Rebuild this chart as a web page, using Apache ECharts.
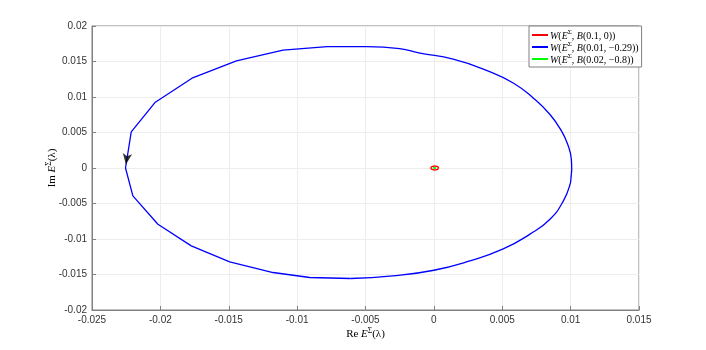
<!DOCTYPE html>
<html>
<head>
<meta charset="utf-8">
<script src="https://cdn.jsdelivr.net/npm/echarts@6/dist/echarts.min.js"></script>
<style>
  html, body { margin: 0; padding: 0; background: #fff; }
  #chart { width: 706px; height: 350px; }
</style>
</head>
<body>
<div id="chart"></div>
<script>
// tick values
var xTicks = [-0.025, -0.02, -0.015, -0.01, -0.005, 0, 0.005, 0.01, 0.015];
var yTicks = [-0.02, -0.015, -0.01, -0.005, 0, 0.005, 0.01, 0.015, 0.02];

var seriesNames = ["W(E,B(0.1,0))", "W(E,B(0.01,-0.29))", "W(E,B(0.02,-0.8))"];

// red curve B(0.1, 0)
var redX = [0.00034, 0.0003, 0.0002, 0.00006, -0.00008, -0.00018, -0.00022, -0.00018, -0.00008, 0.00006, 0.0002, 0.0003, 0.00034];
var redY = [0, 0.00014, 0.00024, 0.00028, 0.00024, 0.00014, 0, -0.00014, -0.00024, -0.00028, -0.00024, -0.00014, 0];

// blue curve B(0.01, -0.29): finely sampled right part
var blueRightX = [-0.0061, -0.003, 0.0, 0.00264, 0.00507, 0.00703, 0.00849, 0.00947, 0.00996, 0.01004, 0.01008, 0.01005, 0.00983, 0.00934, 0.00849, 0.00726, 0.0058, 0.00385, 0.00141, -0.00102, -0.0025, -0.0049];
var blueRightY = [-0.01556, -0.0152, -0.0144, -0.01308, -0.0114, -0.00932, -0.00721, -0.00463, -0.00228, -0.0011, 0.0, 0.0013, 0.00309, 0.00519, 0.00753, 0.00987, 0.01198, 0.01375, 0.01534, 0.01618, 0.0168, 0.0171];
// blue curve: coarse left part
var blueLeftX = [-0.0049, -0.0078, -0.01103, -0.01444, -0.01769, -0.02037, -0.02213, -0.02255, -0.02201, -0.02018, -0.01774, -0.01493, -0.01176, -0.00908, -0.0061];
var blueLeftY = [0.0171, 0.0171, 0.01659, 0.01508, 0.01265, 0.00927, 0.00508, 0.0, -0.00393, -0.00792, -0.01097, -0.01323, -0.01472, -0.01542, -0.01556];

// green curve B(0.02, -0.8)
var greenX = [0.00018, 0.00014, 0.00006, -0.00002, -0.00006, -0.00002, 0.00006, 0.00014, 0.00018];
var greenY = [0, 0.00005, 0.00007, 0.00005, 0, -0.00005, -0.00007, -0.00005, 0];

// direction arrow
var arrowPoint = [-0.02252, 0.0005];

function pairs(xs, ys) {
  return xs.map(function (x, i) { return [x, ys[i]]; });
}

var legendLabels = {};
legendLabels[seriesNames[0]] = "{i|W}{n|(}{i|E}{s|Σ}{n|, }{i|B}{n|(0.1, 0))}";
legendLabels[seriesNames[1]] = "{i|W}{n|(}{i|E}{s|Σ}{n|, }{i|B}{n|(0.01, −0.29))}";
legendLabels[seriesNames[2]] = "{i|W}{n|(}{i|E}{s|Σ}{n|, }{i|B}{n|(0.02, −0.8))}";

var serif = "Liberation Serif";
var rich = {
  i: { fontFamily: serif, fontStyle: "italic", fontSize: 10, color: "#000", verticalAlign: "bottom" },
  n: { fontFamily: serif, fontSize: 10, color: "#000", verticalAlign: "bottom" },
  s: { fontFamily: serif, fontSize: 7, color: "#000", verticalAlign: "bottom", padding: [0, 0, 5, 0] }
};
var axisRich = {
  i: { fontFamily: serif, fontStyle: "italic", fontSize: 11, color: "#000", verticalAlign: "bottom" },
  n: { fontFamily: serif, fontSize: 11, color: "#000", verticalAlign: "bottom" },
  s: { fontFamily: serif, fontSize: 7.5, color: "#000", verticalAlign: "bottom", padding: [0, 0, 5, 0] }
};

function tickFmt(v) {
  return String(+v.toFixed(4));
}

var chart = echarts.init(document.getElementById("chart"), null, { renderer: "canvas" });

chart.setOption({
  animation: false,
  backgroundColor: "#fff",
  grid: {
    left: 92, right: 67, top: 26, bottom: 40,
    show: true, borderColor: "#808080", borderWidth: 1
  },
  legend: {
    data: seriesNames,
    orient: "vertical",
    left: 529, top: 26,
    padding: [3, 3, 2, 3],
    itemGap: 0,
    itemWidth: 16,
    itemHeight: 2,
    icon: "rect",
    backgroundColor: "#fff",
    borderColor: "#808080",
    borderWidth: 1,
    textStyle: { rich: rich, padding: [0, 0, 0, -3] },
    formatter: function (name) { return legendLabels[name]; }
  },
  xAxis: {
    type: "value",
    min: -0.025, max: 0.015, interval: 0.005,
    name: "{n|Re }{i|E}{s|Σ}{n|(λ)}",
    nameLocation: "middle",
    nameGap: 17,
    nameMoveOverlap: false,
    nameTextStyle: { rich: axisRich },
    axisLine: { show: true, onZero: false, lineStyle: { color: "#808080" } },
    axisTick: { show: true, inside: true, length: 4, lineStyle: { color: "#808080" } },
    axisLabel: { color: "#333", fontFamily: "Liberation Sans", fontSize: 10, margin: 5, formatter: tickFmt },
    splitLine: { show: true, lineStyle: { color: "#ededed" } }
  },
  yAxis: {
    type: "value",
    min: -0.02, max: 0.02, interval: 0.005,
    name: "{n|Im }{i|E}{s|Σ}{n|(λ)}",
    nameLocation: "middle",
    nameRotate: 90,
    nameGap: 34,
    nameMoveOverlap: false,
    nameTextStyle: { rich: axisRich },
    axisLine: { show: true, onZero: false, lineStyle: { color: "#808080" } },
    axisTick: { show: true, inside: true, length: 4, lineStyle: { color: "#808080" } },
    axisLabel: { color: "#333", fontFamily: "Liberation Sans", fontSize: 10, margin: 5, formatter: tickFmt },
    splitLine: { show: true, lineStyle: { color: "#ededed" } }
  },
  series: [
    {
      name: seriesNames[0], type: "line", data: pairs(redX, redY),
      smooth: 0.5, showSymbol: false, color: "#ff0000",
      lineStyle: { width: 1.4, color: "#ff0000" }
    },
    {
      name: seriesNames[1], type: "line", data: pairs(blueRightX, blueRightY),
      smooth: 0.5, showSymbol: false, color: "#0000ff",
      lineStyle: { width: 1.3, color: "#0000ff" }
    },
    {
      name: seriesNames[1], type: "line", data: pairs(blueLeftX, blueLeftY),
      smooth: false, showSymbol: false, color: "#0000ff",
      lineStyle: { width: 1.3, color: "#0000ff" }
    },
    {
      name: seriesNames[2], type: "line", data: pairs(greenX, greenY),
      smooth: 0.5, showSymbol: false, color: "#00ff00",
      lineStyle: { width: 1.2, color: "#00ff00" }
    },
    {
      name: "arrow", type: "scatter", data: [arrowPoint],
      symbol: "arrow", symbolSize: [7, 11], symbolRotate: 172,
      itemStyle: { color: "#000" }, z: 5
    }
  ]
});
</script>
</body>
</html>
